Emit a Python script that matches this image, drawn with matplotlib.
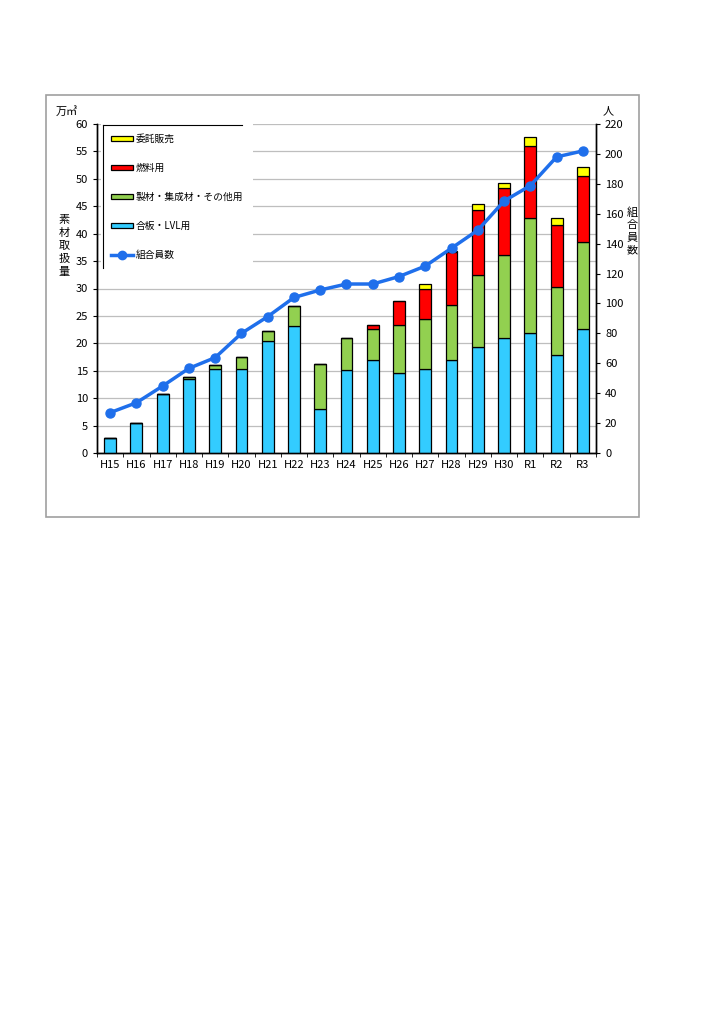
import numpy as np
import matplotlib
matplotlib.use('Agg')
import matplotlib.pyplot as plt
from matplotlib.patches import Rectangle, Patch
from matplotlib.lines import Line2D

plt.rcParams['font.family'] = ['Noto Sans CJK JP', 'DejaVu Sans']
plt.rcParams['axes.linewidth'] = 1.0

years = ['H15', 'H16', 'H17', 'H18', 'H19', 'H20', 'H21', 'H22', 'H23', 'H24',
         'H25', 'H26', 'H27', 'H28', 'H29', 'H30', 'R1', 'R2', 'R3']
# 万m3 (stacked components)
plywood = [2.7, 5.5, 10.7, 13.5, 15.3, 15.4, 20.5, 23.1, 8.0, 15.2,
           17.0, 14.5, 15.3, 17.0, 19.4, 20.9, 21.8, 17.9, 22.7]
sawn = [0.0, 0.0, 0.0, 0.3, 0.7, 2.1, 1.7, 3.7, 8.2, 5.8,
        5.6, 8.8, 9.1, 10.0, 13.1, 15.2, 21.0, 12.4, 15.7]
fuel = [0.0, 0.0, 0.0, 0.0, 0.0, 0.0, 0.0, 0.0, 0.0, 0.0,
        0.8, 4.4, 5.5, 9.6, 11.8, 12.2, 13.1, 11.3, 12.2]
consign = [0.0, 0.0, 0.0, 0.0, 0.0, 0.0, 0.0, 0.0, 0.0, 0.0,
           0.0, 0.1, 0.9, 0.3, 1.1, 0.9, 1.7, 1.2, 1.6]
# 人
members = [27, 33.6, 44.8, 56.6, 63.8, 80, 91.2, 104, 109, 113,
           113, 118, 125, 137, 149, 168.5, 178.8, 198, 202]

labels = ['委託販売', '燃料用', '製材・集成材・その他用', '合板・LVL用', '組合員数']
c_blue = '#33CCFF'
c_green = '#92D050'
c_red = '#FF0000'
c_yellow = '#FFFF00'
c_line = '#1F6FEB'

fig = plt.figure(figsize=(7.24, 10.24), dpi=100)
fig.patches.append(Rectangle((46/724, 1-517/1024), 593/724, 422/1024,
                             transform=fig.transFigure, fill=False,
                             edgecolor='#A0A0A0', lw=1.2))

ax = fig.add_axes([97/724, 1-453/1024, 499/724, 329/1024])
x = np.arange(len(years))
w = 0.45
b1 = np.array(plywood)
b2 = b1 + np.array(sawn)
b3 = b2 + np.array(fuel)
ax.bar(x, plywood, w, color=c_blue, edgecolor='black', lw=0.9, zorder=3)
ax.bar(x, sawn, w, bottom=b1, color=c_green, edgecolor='black', lw=0.9, zorder=3)
ax.bar(x, fuel, w, bottom=b2, color=c_red, edgecolor='black', lw=0.9, zorder=3)
ax.bar(x, consign, w, bottom=b3, color=c_yellow, edgecolor='black', lw=0.9, zorder=3)

ax.set_xlim(-0.5, len(years)-0.5)
ax.set_ylim(0, 60)
ax.set_yticks(np.arange(0, 61, 5))
ax.yaxis.grid(True, color='#BEBEBE', lw=0.9, zorder=0)
ax.set_axisbelow(True)
ax.set_xticks(x)
ax.set_xticklabels(years)
ax.set_xticks(np.arange(-0.5, len(years), 1), minor=True)
ax.tick_params(axis='x', which='major', length=0, labelsize=8, pad=5)
ax.tick_params(axis='x', which='minor', length=3, direction='out')
ax.tick_params(axis='y', labelsize=8, length=3, direction='out')
ax.spines['top'].set_visible(False)

ax2 = ax.twinx()
ax2.plot(x, members, color=c_line, lw=2.5, marker='o', ms=6.5, zorder=5)
ax2.set_ylim(0, 220)
ax2.set_yticks(np.arange(0, 221, 20))
ax2.tick_params(axis='y', labelsize=8, length=3, direction='out')
ax2.spines['top'].set_visible(False)
ax2.set_zorder(ax.get_zorder()+1)
ax2.patch.set_visible(False)

fig.text(56/724, 1-111/1024, '万㎥', fontsize=8, va='center')
fig.text(608/724, 1-111/1024, '人', fontsize=8, va='center', ha='center')
fig.text(64/724, 1-246/1024, '素\n材\n取\n扱\n量', fontsize=8, va='center',
         ha='center', linespacing=1.35)
fig.text(632/724, 1-231/1024, '組\n合\n員\n数', fontsize=8, va='center',
         ha='center', linespacing=1.3)

handles = [Patch(facecolor=c_yellow, edgecolor='black', lw=0.9),
           Patch(facecolor=c_red, edgecolor='black', lw=0.9),
           Patch(facecolor=c_green, edgecolor='black', lw=0.9),
           Patch(facecolor=c_blue, edgecolor='black', lw=0.9),
           Line2D([], [], color=c_line, lw=2.5, marker='o', ms=6)]
leg = ax2.legend(handles, labels, loc='upper left', bbox_to_anchor=(0.008, 1.0),
                 fontsize=7, frameon=True, fancybox=False, facecolor='white',
                 edgecolor='none', framealpha=1, handlelength=2.2, handleheight=0.45,
                 labelspacing=1.95, borderpad=1.05, handletextpad=0.3,
                 borderaxespad=0.0)
# legend border: top and left lines only
ax2.plot([0.013, 0.29], [0.997, 0.997], color='black', lw=0.8,
         transform=ax2.transAxes, clip_on=False, zorder=10)
ax2.plot([0.013, 0.013], [0.997, 0.562], color='black', lw=0.8,
         transform=ax2.transAxes, clip_on=False, zorder=10)

fig.savefig('out.png', dpi=100, facecolor='w')
